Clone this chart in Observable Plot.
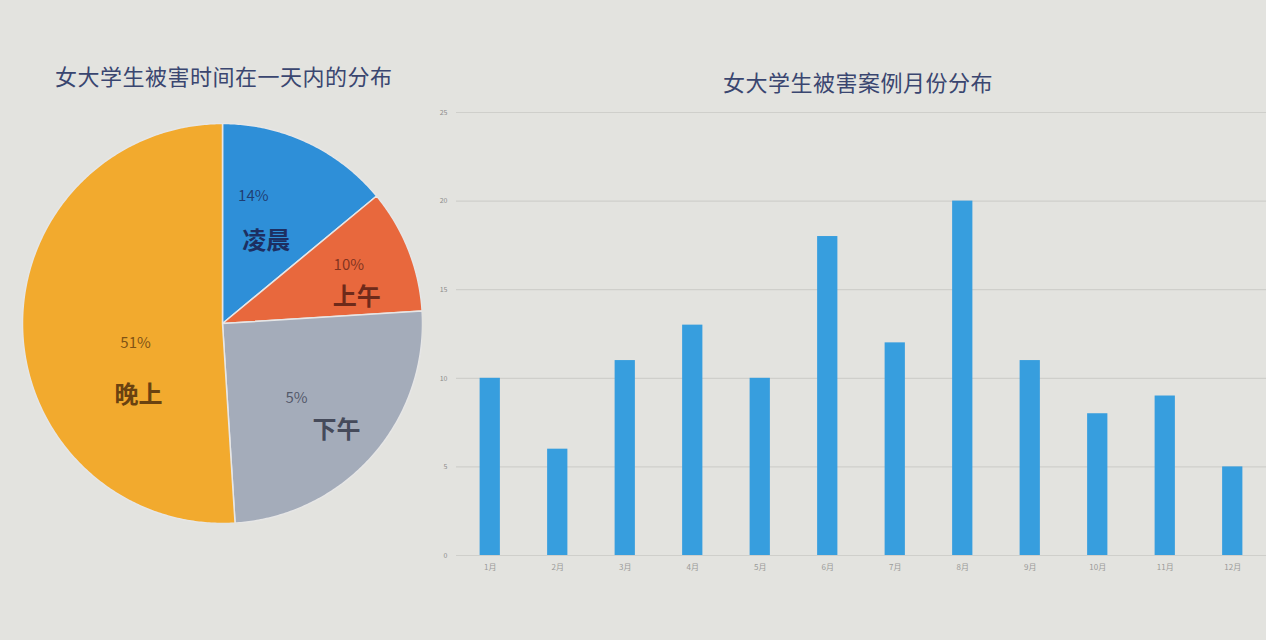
<!DOCTYPE html>
<html>
<head>
<meta charset="utf-8">
<script src="https://cdn.jsdelivr.net/npm/d3@7"></script>
<script src="https://cdn.jsdelivr.net/npm/@observablehq/plot@0.6"></script>
<style>
  html, body { margin: 0; padding: 0; }
  body { width: 1266px; height: 640px; background: #e3e3df; position: relative; overflow: hidden;
         font-family: "Noto Sans CJK SC", "Noto Sans", sans-serif; }
  .title { position: absolute; color: #3a4670; font-size: 22px; white-space: nowrap; font-weight: 400; letter-spacing: 0.5px; }
  #pieTitle { left: 55px; top: 59px; }
  #barTitle { left: 858px; top: 65px; transform: translateX(-50%); }
  #pie { position: absolute; left: 22px; top: 123px; }
  #bar { position: absolute; left: 430px; top: 95px; }
</style>
</head>
<body>
<div class="title" id="pieTitle">女大学生被害时间在一天内的分布</div>
<div class="title" id="barTitle">女大学生被害案例月份分布</div>
<div id="pie"></div>
<div id="bar"></div>
<script>
// ---- Pie data ----
const periods = ["凌晨", "上午", "下午", "晚上"];
const periodShares = [14, 10, 25, 51];
const periodLabels = ["14%", "10%", "5%", "51%"];
const periodColors = ["#2e8fd8", "#e8683d", "#a4acba", "#f2aa2e"];

// ---- Bar data ----
const months = ["1月","2月","3月","4月","5月","6月","7月","8月","9月","10月","11月","12月"];
const monthCases = [10, 6, 11, 13, 10, 18, 12, 20, 11, 8, 9, 5];
const yTicks = [0, 5, 10, 15, 20, 25];

// ---- Pie geometry via d3.pie, drawn with Plot.line (filled) ----
const R = 200; // pixel radius, for converting layout nudges
const arcs = d3.pie().sort(null).value(d => d)(periodShares);
const pts = [];
arcs.forEach((a, i) => {
  const n = Math.max(2, Math.ceil((a.endAngle - a.startAngle) / 0.01));
  pts.push({k: periods[i], x: 0, y: 0});
  for (let j = 0; j <= n; j++) {
    const t = a.startAngle + (a.endAngle - a.startAngle) * j / n;
    pts.push({k: periods[i], x: Math.sin(t), y: Math.cos(t)});
  }
  pts.push({k: periods[i], x: 0, y: 0});
});
// label layout nudges in pixels (layout only): [pct dx, pct dy, name dx, name dy]
const nudge = {
  "凌晨": [-22, -15, -9, 30],
  "上午": [11, -13, 19, 19],
  "下午": [-19, -7, 21, 25],
  "晚上": [37, 16, 40, 68]
};
const textColor = {"凌晨": "#1d2f62", "上午": "#6e2a1a", "下午": "#454a5a", "晚上": "#6a4210"};
const pctLabels = [], nameLabels = [];
arcs.forEach((a, i) => {
  const m = (a.startAngle + a.endAngle) / 2;
  const cx = 0.62 * Math.sin(m), cy = 0.62 * Math.cos(m);
  const nd = nudge[periods[i]];
  pctLabels.push({k: periods[i], t: periodLabels[i], x: cx + nd[0] / R, y: cy - nd[1] / R});
  nameLabels.push({k: periods[i], t: periods[i], x: cx + nd[2] / R, y: cy - nd[3] / R});
});

const pie = Plot.plot({
  width: 2 * R, height: 2 * R, margin: 0,
  x: {domain: [-1, 1], axis: null},
  y: {domain: [-1, 1], axis: null},
  color: {domain: periods, range: periodColors},
  style: {background: "transparent", fontFamily: "'Noto Sans CJK SC', sans-serif"},
  marks: [
    Plot.line(pts, {x: "x", y: "y", z: "k", fill: "k", stroke: "#e6e6e6", strokeWidth: 1.5, curve: "linear"}),
    Plot.text(pctLabels, {x: "x", y: "y", text: "t", fill: d => textColor[d.k], fontSize: 15, fillOpacity: 0.85}),
    Plot.text(nameLabels, {x: "x", y: "y", text: "t", fill: d => textColor[d.k], fontSize: 24, fontWeight: "bold"})
  ]
});
document.getElementById("pie").append(pie);

// ---- Bar chart ----
const barData = months.map((m, i) => ({month: m, v: monthCases[i]}));
const bar = Plot.plot({
  width: 836, height: 490,
  marginLeft: 26, marginRight: 0, marginTop: 17, marginBottom: 30,
  style: {background: "transparent", fontFamily: "'Noto Sans CJK SC', sans-serif", color: "#8a8a88"},
  x: {domain: months, paddingInner: 0.7, paddingOuter: 0.35, round: false, label: null},
  y: {domain: [0, 25], label: null},
  marks: [
    Plot.ruleY(yTicks, {stroke: "#cfcfcb", strokeWidth: 1.2}),
    Plot.barY(barData, {x: "month", y: "v", fill: "#379ede"}),
    Plot.axisY({ticks: yTicks, tickSize: 0, tickPadding: 9, fontSize: 7, fill: "#8c8c8a", label: null}),
    Plot.axisX({tickSize: 0, tickPadding: 9, fontSize: 8, fill: "#9a9a98", label: null})
  ]
});
document.getElementById("bar").append(bar);
</script>
</body>
</html>
